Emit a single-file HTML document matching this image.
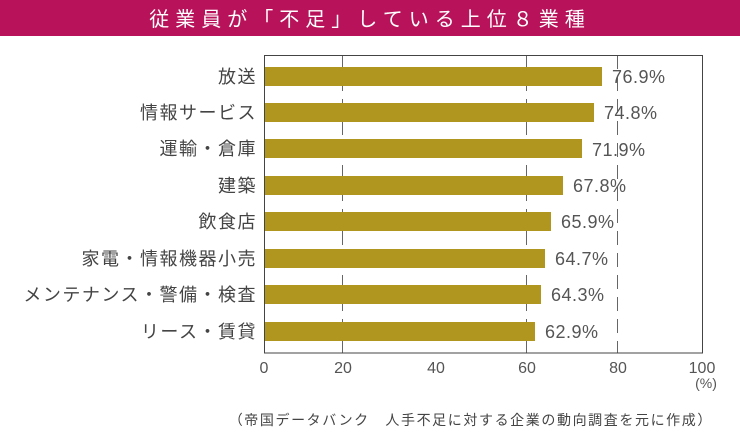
<!DOCTYPE html><html><head><meta charset="utf-8"><style>
body{margin:0;width:740px;height:440px;background:#fff;overflow:hidden;font-family:"Liberation Sans","Noto Sans CJK JP",sans-serif}
</style></head><body>
<svg width="740" height="440" xmlns="http://www.w3.org/2000/svg" font-family="Liberation Sans, Noto Sans CJK JP, sans-serif">
<rect x="0" y="0" width="740" height="36" fill="#b8135a"/>
<text x="370" y="26" fill="#fff" font-size="20" text-anchor="middle" letter-spacing="6">従業員が「不足」している上位８業種</text>
<g stroke="#666" stroke-width="1" stroke-dasharray="14,8">
<line x1="342.5" y1="55" x2="342.5" y2="353"/>
<line x1="526.5" y1="55" x2="526.5" y2="353"/>
<line x1="617.5" y1="55" x2="617.5" y2="353"/>
</g>
<g fill="#b0961e">
<rect x="265" y="67" width="337" height="19"/>
<rect x="265" y="103" width="329" height="19"/>
<rect x="265" y="139" width="317" height="19"/>
<rect x="265" y="176" width="298" height="19"/>
<rect x="265" y="212" width="286" height="19"/>
<rect x="265" y="249" width="280" height="19"/>
<rect x="265" y="285" width="276" height="19"/>
<rect x="265" y="322" width="270" height="19"/>
</g>
<rect x="264.5" y="55.5" width="438" height="297.5" fill="none" stroke="#444" stroke-width="1"/>
<g fill="#555" font-size="18" letter-spacing="0.5">
<text x="612" y="83">76.9%</text>
<text x="604" y="119">74.8%</text>
<text x="592" y="156">71.9%</text>
<text x="573" y="192">67.8%</text>
<text x="561" y="228">65.9%</text>
<text x="555" y="265">64.7%</text>
<text x="551" y="301">64.3%</text>
<text x="545" y="338">62.9%</text>
</g>
<g fill="#444" font-size="18" text-anchor="end" letter-spacing="1.5">
<text x="257" y="83">放送</text>
<text x="257" y="119">情報サービス</text>
<text x="257" y="155">運輸・倉庫</text>
<text x="257" y="192">建築</text>
<text x="257" y="228">飲食店</text>
<text x="257" y="265">家電・情報機器小売</text>
<text x="257" y="301">メンテナンス・警備・検査</text>
<text x="257" y="338">リース・賃貸</text>
</g>
<g fill="#555" font-size="16" text-anchor="middle">
<text x="264" y="373">0</text>
<text x="343" y="373">20</text>
<text x="436" y="373">40</text>
<text x="527" y="373">60</text>
<text x="618" y="373">80</text>
<text x="702" y="373">100</text>
<text x="706" y="388" font-size="14">(%)</text>
</g>
<text x="713" y="425" fill="#444" font-size="14" text-anchor="end" letter-spacing="1.6">（帝国データバンク　人手不足に対する企業の動向調査を元に作成）</text>
</svg>
</body></html>
